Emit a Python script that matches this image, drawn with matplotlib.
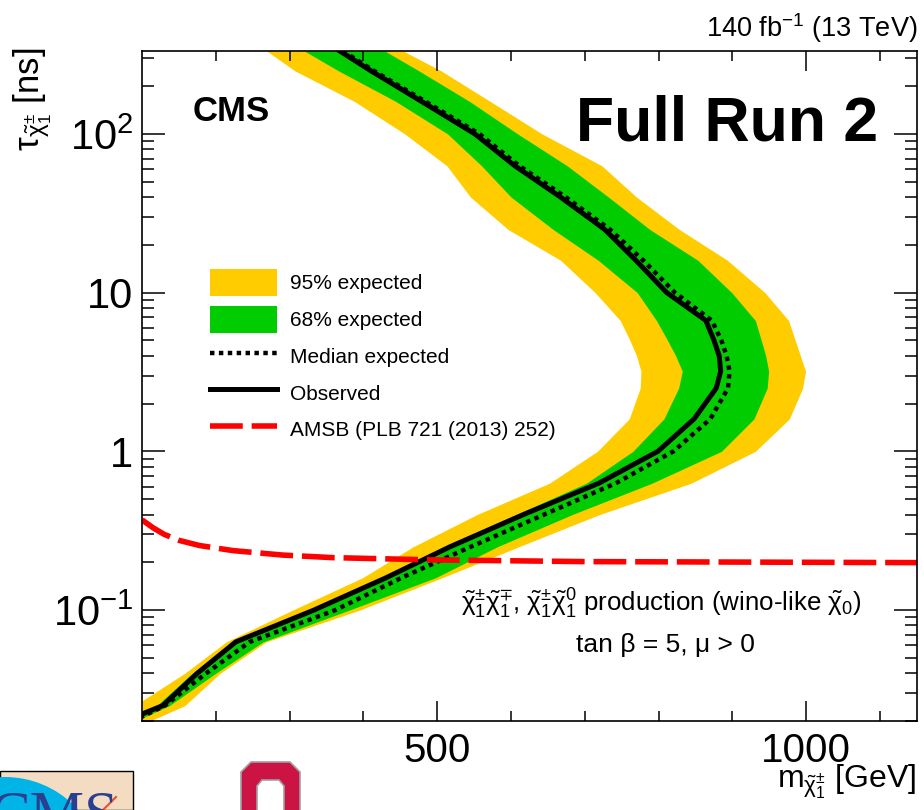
import matplotlib
matplotlib.use("Agg")
import matplotlib.pyplot as plt
from matplotlib.patches import Patch, Rectangle, Polygon, Ellipse
from matplotlib.lines import Line2D
from matplotlib.ticker import FixedLocator, FixedFormatter, NullFormatter

plt.rcParams['font.family'] = ['Liberation Sans', 'DejaVu Sans']
plt.rcParams['mathtext.fontset'] = 'custom'
plt.rcParams['mathtext.rm'] = 'Liberation Sans'
plt.rcParams['mathtext.it'] = 'Liberation Sans:italic'
plt.rcParams['mathtext.bf'] = 'Liberation Sans:bold'
plt.rcParams['mathtext.default'] = 'regular'

# chargino lifetimes [ns] at which the contours were read
tau = [333, 250, 160, 100, 63, 40, 25, 16, 10, 6.67, 5, 4, 3.2, 2.5,
       1.6, 1, 0.63, 0.4, 0.25, 0.16, 0.1, 0.063, 0.04, 0.025, 0.02]

# excluded chargino mass [GeV] at each lifetime
observed = [368, 410, 479, 551, 605, 667, 727, 769, 811, 864, 875, 882, 884, 878,
            848, 799, 719, 617, 517, 431, 333, 227, 175, 128, 77]
expected = [372, 414, 484, 557, 611, 674, 734, 779, 822, 872, 885, 892, 896, 894,
            870, 820, 742, 645, 545, 452, 362, 246, 187, 131, 88]
exp_68_lo = [320, 366, 444, 514, 560, 600, 657, 718, 771, 797, 812, 823, 832, 827,
             807, 765, 702, 607, 508, 425, 326, 224, 168, 120, 68]
exp_68_hi = [429, 475, 544, 609, 676, 732, 788, 853, 899, 931, 939, 945, 949, 947,
             929, 885, 791, 683, 581, 498, 381, 264, 200, 137, 91]
exp_95_lo = [269, 307, 388, 456, 513, 545, 596, 667, 714, 748, 761, 770, 776, 775,
             760, 717, 652, 554, 467, 399, 304, 214, 158, 90, 50]
exp_95_hi = [454, 505, 572, 642, 723, 770, 828, 893, 944, 976, 985, 992, 999, 995,
             977, 931, 844, 720, 610, 507, 395, 268, 206, 158, 111]

# AMSB prediction, lifetime vs mass
amsb_mass = [100, 115, 130, 150, 178, 223, 291, 358, 494, 700, 1150]
amsb_tau = [0.37, 0.33, 0.30, 0.275, 0.255, 0.237, 0.222, 0.214, 0.207, 0.202, 0.199]

yellow = '#ffcc00'
green = '#00cc00'

fig = plt.figure(figsize=(9.24, 8.10), dpi=100)
ax = fig.add_axes([142/924, 1 - 721/810, 775/924, 670/810])

ax.fill_betweenx(tau, exp_95_lo, exp_95_hi, color=yellow, lw=0)
ax.fill_betweenx(tau, exp_68_lo, exp_68_hi, color=green, lw=0)
ax.plot(expected, tau, color='black', lw=3.2, linestyle=(0, (1, 1)))
ax.plot(observed, tau, color='black', lw=3.6, solid_joinstyle='round')
ax.plot(amsb_mass, amsb_tau, color='#ff0000', lw=4, linestyle=(0, (5.9, 1.6)))

ax.set_xlim(100, 1150)
ax.set_yscale('log')
ax.set_ylim(0.02, 333)

ax.xaxis.set_major_locator(FixedLocator([500, 1000]))
ax.xaxis.set_minor_locator(FixedLocator([200, 300, 400, 600, 700, 800, 900, 1100]))
ax.yaxis.set_major_locator(FixedLocator([0.1, 1, 10, 100]))
ax.yaxis.set_major_formatter(FixedFormatter([r'$10^{-1}$', '1', '10', r'$10^{2}$']))
minors = [k * 10.0**e for e in range(-2, 3) for k in range(2, 10)]
ax.yaxis.set_minor_locator(FixedLocator([m for m in minors if 0.02 <= m <= 333]))
ax.yaxis.set_minor_formatter(NullFormatter())

ax.tick_params(which='both', direction='in', top=True, right=True, width=1.1, color='black')
ax.tick_params(axis='x', which='major', length=14.4, labelsize=29, pad=8)
ax.tick_params(axis='x', which='minor', length=7)
ax.tick_params(axis='y', which='major', length=16.5, labelsize=30, pad=6.5)
ax.tick_params(axis='y', which='minor', length=8.6)
for s in ax.spines.values():
    s.set_linewidth(1.2)

ax.set_xlabel(r'm$_{\tilde{\chi}^{\pm}_{1}}$ [GeV]', fontsize=23, loc='right')
ax.xaxis.set_label_coords(1.0, -0.063)
ax.set_ylabel(r'$\tau_{\tilde{\chi}^{\pm}_{1}}$ [ns]', fontsize=25, loc='top')
ax.yaxis.set_label_coords(-0.113, 1.005)

ax.text(1.0, 1.009, r'140 fb$^{-1}$ (13 TeV)', transform=ax.transAxes,
        ha='right', va='bottom', fontsize=19.5)
ax.text(0.0658, 0.909, 'CMS', transform=ax.transAxes, ha='left', va='center',
        fontsize=25, fontweight='bold')
ax.text(0.9497, 0.891, 'Full Run 2', transform=ax.transAxes, ha='right', va='center',
        fontsize=45, fontweight='bold')
ax.text(0.6697, 0.175,
        r'$\tilde{\chi}^{\pm}_{1}\tilde{\chi}^{\mp}_{1}$, $\tilde{\chi}^{\pm}_{1}\tilde{\chi}^{0}_{1}$'
        r' production (wino-like $\tilde{\chi}_{0}$)',
        transform=ax.transAxes, ha='center', va='center', fontsize=18.6)
ax.text(0.6748, 0.1134, 'tan β = 5, μ > 0', transform=ax.transAxes,
        ha='center', va='center', fontsize=19)

handles = [
    Patch(facecolor=yellow, edgecolor='none'),
    Patch(facecolor=green, edgecolor='none'),
    Line2D([], [], color='black', lw=3.2, linestyle=(0, (1, 1))),
    Line2D([], [], color='black', lw=3.6),
    Line2D([], [], color='#ff0000', lw=4, linestyle=(0, (5.9, 1.6))),
]
labels = ['95% expected', '68% expected', 'Median expected', 'Observed',
          'AMSB (PLB 721 (2013) 252)']
ax.legend(handles, labels, loc='upper left', bbox_to_anchor=(0.0877, 0.6746),
          frameon=False, fontsize=15, borderpad=0, borderaxespad=0,
          handlelength=3.22, handleheight=1.613, handletextpad=0.63, labelspacing=0.47)

# logos at the bottom edge
def fp(x, y):
    return (x / 924, 1 - y / 810)

box = Rectangle(fp(0, 810), 133/924, 39/810, transform=fig.transFigure,
                facecolor='#f3dcc1', edgecolor='black', lw=1)
fig.add_artist(box)
blob = Ellipse(fp(5, 875), 196/924, 196/810, transform=fig.transFigure,
               facecolor='#00b4e8', edgecolor='none')
fig.add_artist(blob)
blob.set_clip_path(box)
t = fig.text(-10/924, 1 - 790/810, 'CMS', fontsize=44, color='#2b3f90',
             ha='left', va='top', family='Liberation Serif')
t.set_clip_path(box)
fig.add_artist(Line2D([103/924, 116/924], [1 - 810/810, 1 - 797/810],
                      transform=fig.transFigure, color='#e8502a', lw=1.5))

outer = [fp(251, 762), fp(290, 762), fp(300, 772), fp(300, 812), fp(241, 812), fp(241, 772)]
inner = [fp(262, 780), fp(279, 780), fp(284, 786), fp(284, 812), fp(257, 812), fp(257, 786)]
fig.add_artist(Polygon(outer, closed=True, transform=fig.transFigure,
                       facecolor='#cc1444', edgecolor='#a0a0a0', lw=1.2))
fig.add_artist(Polygon(inner, closed=True, transform=fig.transFigure,
                       facecolor='white', edgecolor='#a0a0a0', lw=1.2))

fig.savefig('out.png', dpi=100)
